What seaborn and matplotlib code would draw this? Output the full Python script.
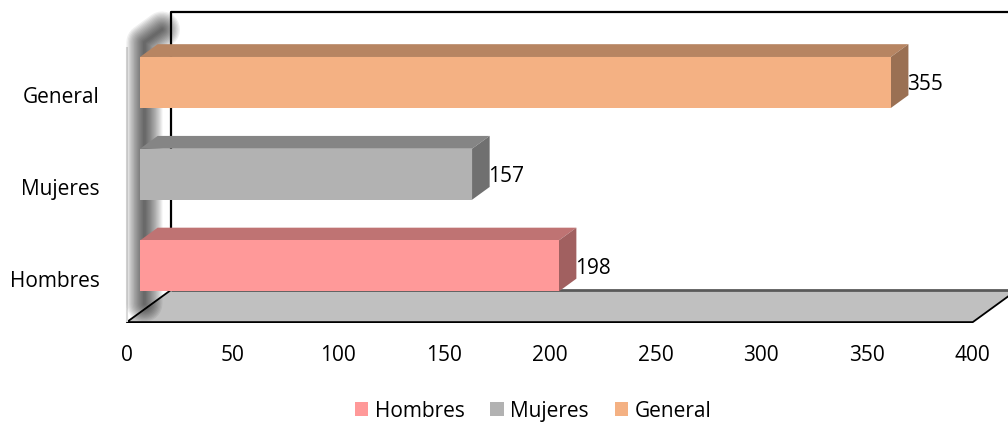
import numpy as np
import pandas as pd
import matplotlib
matplotlib.use('Agg')
import matplotlib.pyplot as plt
import seaborn as sns
from matplotlib.patches import Polygon, Patch
from matplotlib.colors import to_rgb

# datos
categorias = ['General', 'Mujeres', 'Hombres']
valores = [355, 157, 198]
colores = {'Hombres': '#FF9999', 'Mujeres': '#B2B2B2', 'General': '#F4B183'}
orden_leyenda = ['Hombres', 'Mujeres', 'General']
ticks_x = [0, 50, 100, 150, 200, 250, 300, 350, 400]

sns.set_theme(style='white')
plt.rcParams['font.family'] = ['Open Sans', 'DejaVu Sans']
plt.rcParams['text.color'] = 'black'
FS = 15

W, H = 1008, 423
fig = plt.figure(figsize=(W / 100, H / 100), dpi=100)
# ejes = plano frontal de las barras
ax = fig.add_axes([140 / W, (H - 312.5) / H, 846 / W, 278 / H])

df = pd.DataFrame({'cat': categorias, 'valor': valores})
sns.barplot(data=df, x='valor', y='cat', hue='cat', order=categorias,
            palette=colores, width=0.556, saturation=1, legend=False,
            linewidth=0, ax=ax, zorder=5)

y_top, y_piso = -0.523, 2.507
ax.set_xlim(0, 400)
ax.set_ylim(y_piso, y_top)
ax.set_xticks([])
ax.set_yticks([])
ax.set_xlabel('')
ax.set_ylabel('')
for s in ax.spines.values():
    s.set_visible(False)

# vector de profundidad (pixeles -> datos)
px_x = ax.bbox.width / 400
px_y = ax.bbox.height / (y_piso - y_top)
DX = 44 / px_x
DY = -32 / px_y
T0 = 0.3  # profundidad del plano frontal de las barras


def P(x, y, t):
    return (x + (t - T0) * DX, y + (t - T0) * DY)


# piso
piso = [P(0, y_piso, 0), P(400, y_piso, 0), P(400, y_piso, 1), P(0, y_piso, 1)]
ax.add_patch(Polygon(piso, closed=True, facecolor='#C0C0C0', edgecolor='none',
                     clip_on=False, zorder=1))
kw = dict(clip_on=False, solid_capstyle='butt')
xs, ys = zip(P(0, y_piso, 1), P(400, y_piso, 1))
ax.plot(xs, ys, color='#595959', lw=2, zorder=2, **kw)
xs, ys = zip(P(0, y_piso, 1), P(0, y_piso, 0), P(400, y_piso, 0), P(400, y_piso, 1))
ax.plot(xs, ys, color='black', lw=1.3, zorder=2, **kw)

# pared del fondo
xs, ys = zip(P(0, y_piso, 1), P(0, y_top, 1), P(420, y_top, 1))
ax.plot(xs, ys, color='black', lw=1.6, zorder=2, **kw)

# pared lateral: borde claro y sombra difusa
xs, ys = zip(P(0, y_piso, 0), P(0, y_top + 0.03, 0))
ax.plot(xs, ys, color='#D9D9D9', lw=1.5, zorder=2, **kw)
sx, sy = zip(P(0, y_top + 0.12, 0.8), P(0, y_top + 0.12, 0.4), P(0, y_piso - 0.06, 0.4))
for w in np.linspace(26, 2, 14):
    ax.plot(sx, sy, color='black', lw=w, alpha=0.06, zorder=3,
            clip_on=False, solid_capstyle='round', solid_joinstyle='round')

# caras 3D de las barras
ox, oy = 0.4 * DX, 0.4 * DY
for p in ax.patches:
    if not hasattr(p, 'get_width') or p.get_width() <= 0:
        continue
    x0, y0, w, h = p.get_x(), p.get_y(), p.get_width(), p.get_height()
    c = np.array(to_rgb(p.get_facecolor()))
    arriba = [(x0, y0), (x0 + w, y0), (x0 + w + ox, y0 + oy), (x0 + ox, y0 + oy)]
    lado = [(x0 + w, y0), (x0 + w, y0 + h), (x0 + w + ox, y0 + h + oy), (x0 + w + ox, y0 + oy)]
    ax.add_patch(Polygon(arriba, closed=True, facecolor=c * 0.75, edgecolor='none',
                         zorder=4, clip_on=False))
    ax.add_patch(Polygon(lado, closed=True, facecolor=c * 0.63, edgecolor='none',
                         zorder=4, clip_on=False))

# etiquetas de valor
for i, v in enumerate(valores):
    ax.annotate(str(v), xy=(v, i), xytext=(16 * 0.72, -2.5 * 0.72),
                textcoords='offset points', ha='left', va='center',
                fontsize=FS, color='black', zorder=6, annotation_clip=False)

# etiquetas de categorias
for i, c in enumerate(categorias):
    ax.annotate(c, xy=P(0, i, 0), xytext=(-27 * 0.72, -15 * 0.72 + 9.5 * 0.72),
                textcoords='offset points', ha='right', va='center',
                fontsize=FS, color='black', annotation_clip=False)

# etiquetas del eje x
for v in ticks_x:
    ax.annotate(str(v), xy=P(v, y_piso, 0), xytext=(0, -33 * 0.72),
                textcoords='offset points', ha='center', va='center',
                fontsize=FS, color='black', annotation_clip=False)

# leyenda
handles = [Patch(facecolor=colores[c], edgecolor='none') for c in orden_leyenda]
fig.legend(handles, orden_leyenda, loc='center', bbox_to_anchor=(533 / W, 1 - 411 / H),
           ncol=3, frameon=False, fontsize=FS, handlelength=0.64, handleheight=0.64,
           handletextpad=0.3, columnspacing=1.25, labelcolor='black')

fig.savefig('out.png', dpi=100)
